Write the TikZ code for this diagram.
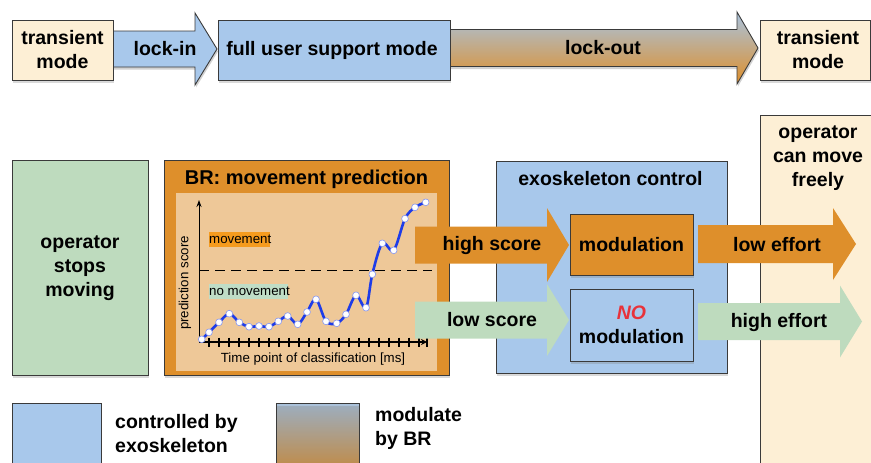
\documentclass[tikz,border=0pt]{standalone}
\usepackage{fontspec}
\setmainfont{Liberation Sans}
\usetikzlibrary{shadows,arrows.meta}
\definecolor{cream}{HTML}{FDEFD5}
\definecolor{bluef}{HTML}{A8C8EB}
\definecolor{greenf}{HTML}{BEDBBE}
\definecolor{orangef}{HTML}{DE8F2B}
\definecolor{panelf}{HTML}{EEC898}
\definecolor{bord}{HTML}{3A3A3A}
\definecolor{curveb}{HTML}{1E3CE8}
\definecolor{grtop}{HTML}{A9C3DE}
\definecolor{labor}{HTML}{F59B1E}
\definecolor{labgr}{HTML}{BFDDC6}
\definecolor{nored}{HTML}{E8323A}
\newcommand\barrowpath[6]{(#1,#4-#5)--(#2,#4-#5)--(#2,#4-#6)--(#3,#4)--(#2,#4+#6)--(#2,#4+#5)--(#1,#4+#5)--cycle}
\begin{document}
\begin{tikzpicture}[x=1pt,y=-1pt,
  box/.style={draw=bord, line width=0.9pt, inner sep=0pt, align=center,
    drop shadow={shadow xshift=1pt, shadow yshift=-2.5pt, opacity=0.3}},
  lbl/.style={font=\bfseries\fontsize{19.5}{24}\selectfont, align=center, inner sep=0pt},
  small/.style={font=\fontsize{13.3}{16}\selectfont, inner sep=0pt},
  dot/.style={circle, fill=white, draw=curveb!55, line width=0.6pt, inner sep=0pt, minimum size=6.8pt},
]
\useasboundingbox (0,0) rectangle (871,463);
\clip (0,0) rectangle (871,463);
% ---------- top row ----------
\fill[black, opacity=0.18] \barrowpath{113}{196}{218}{51.5}{18}{36};
\filldraw[fill=bluef, draw=bord, line width=0.9pt] \barrowpath{113}{195}{217}{49}{18}{36};
\fill[black, opacity=0.18] \barrowpath{450}{738}{759}{50.5}{18.5}{36};
\shade[top color=grtop, bottom color=orangef] \barrowpath{450}{737}{758}{48}{18.5}{36};
\draw[draw=bord, line width=0.9pt] \barrowpath{450}{737}{758}{48}{18.5}{36};
\node[box, fill=cream, minimum width=101pt, minimum height=60pt] (tm1) at (62.5,50) {};
\node[lbl] at (tm1.center) {transient\\mode};
\node[box, fill=bluef, minimum width=232pt, minimum height=60pt] (fusm) at (334,50) {};
\node[lbl] at (332,50) {full user support mode};
\node[box, fill=cream, minimum width=110pt, minimum height=60pt] (tm2) at (815,50) {};
\node[lbl] at (818,50) {transient\\mode};
\node[lbl] (lockin) at (165,49) {lock-in};
\node[lbl] (lockout) at (603,48) {lock-out};
% ---------- bottom row boxes ----------
\node[box, fill=greenf, minimum width=136pt, minimum height=215pt] (osm) at (80,267.5) {};
\node[lbl] at (80,268) {operator\\stops\\moving};
\node[box, fill=orangef, minimum width=285pt, minimum height=215pt] (br) at (306.5,267.5) {};
\node[lbl, font=\bfseries\fontsize{20}{24}\selectfont] (brt) at (306.5,179) {BR: movement prediction};
\node[fill=panelf, minimum width=261pt, minimum height=178pt, inner sep=0pt] (panel) at (306.5,282) {};
\node[box, fill=bluef, minimum width=231pt, minimum height=212pt] (exo) at (611.5,267) {};
\node[lbl] (exot) at (610.5,179) {exoskeleton control};
\node[box, fill=cream, minimum width=120pt, minimum height=370pt] (ocmf) at (820,300) {};
\node[lbl] at (818,158) {operator\\can move\\freely};
\node[box, fill=orangef, minimum width=123pt, minimum height=61pt] (mod) at (631.5,244.5) {};
\node[lbl] at (mod.center) {modulation};
\node[box, fill=bluef, minimum width=123pt, minimum height=72pt] (nomod) at (631.5,325) {};
\node[lbl] at (nomod.center) {\textcolor{nored}{\itshape NO}\\modulation};
% ---------- chart ----------
\coordinate (o) at (199,342);
\draw[line width=0.9pt, dash pattern=on 10pt off 6pt] (199,270) -- (432,270);
\fill[labor] (209,232) rectangle (270,247);
\node[small, anchor=west] (mv) at (209,239.5) {movement};
\fill[labgr] (209,284) rectangle (288,299);
\node[small, anchor=west] (nmv) at (209,291.5) {no movement};
\draw[line width=1pt, -{Stealth[length=7pt,width=5pt]}] (o) -- (199,200);
\draw[line width=1.4pt, -{Stealth[length=6pt,width=6pt]}] (o) -- (427,342);
\draw[line width=1.4pt] (427,337.5) -- (427,346.5);
\foreach \xx in {209,219,...,419} \draw[line width=1.4pt] (\xx,337.5) -- (\xx,346.5);
\node[small, rotate=90] (ps) at (185,283) {prediction score};
\node[small] (tp) at (313,359) {Time point of classification [ms]};
% ---------- middle arrows ----------
\fill[orangef] \barrowpath{415}{547}{569}{245}{18.5}{37};
\fill[greenf] \barrowpath{415}{547}{569}{320}{18.5}{36};
\node[lbl] (hs) at (492,245) {high score};
\node[lbl] (ls) at (492,320) {low score};
\fill[orangef] \barrowpath{698}{833}{856}{244}{19}{36};
\fill[greenf] \barrowpath{698}{840}{862}{321.5}{18.5}{36};
\node[lbl] (le) at (777,245) {low effort};
\node[lbl] (he) at (779,322) {high effort};
% curve
\draw[curveb, line width=2.6pt, line join=round] plot[smooth, tension=0.55] coordinates {
(201.7,339.3) (209,332.3) (219,322.3) (229.3,313.7) (239.3,322.3) (249,326.7) (259,326) (269,326.7)
(278.3,321.3) (287.7,316) (297.7,324.3) (307,312) (316,299.3) (326,321.3) (336.7,323.3) (346,314.3)
(356,295.3) (366,307.7) (372.3,274.3) (382.3,243.3) (393.7,250.3) (405,218.7) (415,207.3) (425.7,202.3)};
\foreach \p in {(201.7,339.3),(209,332.3),(219,322.3),(229.3,313.7),(239.3,322.3),(249,326.7),(259,326),(269,326.7),
(278.3,321.3),(287.7,316),(297.7,324.3),(307,312),(316,299.3),(326,321.3),(336.7,323.3),(346,314.3),
(356,295.3),(366,307.7),(372.3,274.3),(382.3,243.3),(393.7,250.3),(405,218.7),(415,207.3),(425.7,202.3)}
  \node[dot] at \p {};
% ---------- legend ----------
\node[box, fill=bluef, minimum width=89pt, minimum height=80pt] (leg1) at (56.5,443) {};
\node[lbl, anchor=west, align=left] (leg1t) at (115,434) {controlled by\\exoskeleton};
\shade[top color=grtop, bottom color=orangef, shading=axis] (276,403) rectangle (359,470);
\node[box, minimum width=83pt, minimum height=80pt] (leg2) at (317.5,443) {};
\node[lbl, anchor=west, align=left] (leg2t) at (375,428) {modulate\\by BR};
\end{tikzpicture}
\end{document}
